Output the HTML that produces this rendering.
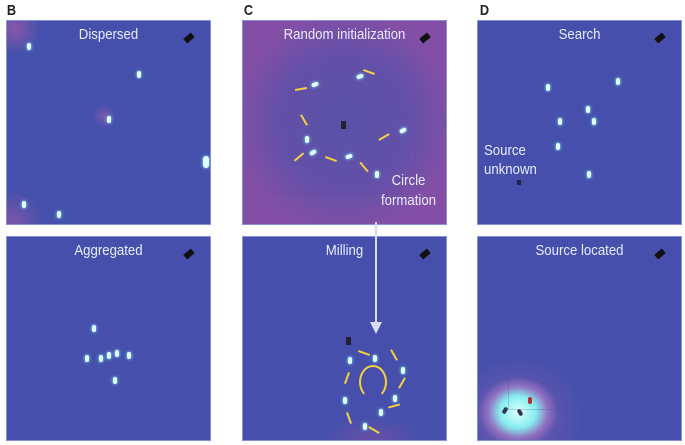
<!DOCTYPE html>
<html><head><style>
body{margin:0;width:685px;height:445px;background:#fff;position:relative;overflow:hidden;font-family:"Liberation Sans",sans-serif}
.L{position:absolute;font-weight:bold;font-size:15px;color:#222;top:2px;transform:scaleX(.85)}
.p{position:absolute;width:205px;height:205px;overflow:hidden;box-sizing:border-box;border:1px solid #8a90d8}
.t{position:absolute;top:5px;width:100%;text-align:center;color:#e8ecff;font-size:15px;transform:scaleX(.88)}
.in{position:absolute;left:30px;top:38px;right:30px;bottom:30px;border:1px solid rgba(60,70,160,.25)}
.cam{position:absolute;right:16px;top:14px;width:10px;height:6px;background:#111;transform:rotate(-40deg)}
.f{position:absolute;width:4px;height:7px;border-radius:3px;background:#dff;box-shadow:0 0 3px #8ff}
.a{position:absolute;width:12px;height:2px;background:#f5d040}
</style></head><body>
<div class="L" style="left:6px">B</div>
<div class="L" style="left:243px">C</div>
<div class="L" style="left:479px">D</div>

<div class="p" style="left:6px;top:20px;background:radial-gradient(circle 25px at 8px 8px,#8a58a8,transparent),radial-gradient(circle 30px at 6px 200px,#7a55a8,transparent),radial-gradient(circle 12px at 97px 95px,#7a58b0,transparent),#4550ac">
<div class="in"></div><div class="t">Dispersed</div><div class="cam"></div>
<div class="f" style="left:100px;top:95px"></div><div class="f" style="left:130px;top:50px"></div><div class="f" style="left:196px;top:135px;height:12px;width:6px"></div><div class="f" style="left:15px;top:180px"></div><div class="f" style="left:50px;top:190px"></div><div class="f" style="left:20px;top:22px"></div></div>

<div class="p" style="left:242px;top:20px;background:radial-gradient(ellipse 110px 110px at 50% 50%,#5a52a8 0,#6350a8 60%,#834fa6 100%)">
<div class="in" style="border-color:rgba(100,70,170,.3)"></div><div class="t">Random initialization</div><div class="cam"></div>
<div class="f" style="left:115px;top:52px;transform:rotate(70deg)"></div><div class="f" style="left:70px;top:60px;transform:rotate(70deg)"></div><div class="f" style="left:158px;top:106px;transform:rotate(60deg)"></div><div class="f" style="left:62px;top:115px"></div><div class="f" style="left:68px;top:128px;transform:rotate(60deg)"></div><div class="f" style="left:104px;top:132px;transform:rotate(70deg)"></div><div class="f" style="left:132px;top:150px"></div>
<div class="a" style="left:120px;top:50px;transform:rotate(20deg)"></div><div class="a" style="left:52px;top:67px;transform:rotate(-10deg)"></div><div class="a" style="left:55px;top:98px;transform:rotate(60deg)"></div><div class="a" style="left:135px;top:115px;transform:rotate(-30deg)"></div><div class="a" style="left:50px;top:135px;transform:rotate(-40deg)"></div><div class="a" style="left:82px;top:137px;transform:rotate(20deg)"></div><div class="a" style="left:115px;top:145px;transform:rotate(50deg)"></div>
<div style="position:absolute;left:98px;top:100px;width:5px;height:8px;background:#223"></div>
<div class="t" style="top:150px;left:64px;line-height:20px">Circle<br>formation</div></div>

<div class="p" style="left:477px;top:20px;background:#4650ac">
<div class="in"></div><div class="t">Search</div><div class="cam"></div>
<div class="f" style="left:68px;top:63px"></div><div class="f" style="left:138px;top:57px"></div><div class="f" style="left:108px;top:85px"></div><div class="f" style="left:80px;top:97px"></div><div class="f" style="left:114px;top:97px"></div><div class="f" style="left:78px;top:122px"></div><div class="f" style="left:109px;top:150px"></div>
<div style="position:absolute;left:39px;top:159px;width:4px;height:5px;background:#224"></div>
<div style="position:absolute;left:6px;top:120px;color:#e8ecff;font-size:15px;line-height:19px;transform:scaleX(.88);transform-origin:left">Source<br>unknown</div></div>

<div class="p" style="left:6px;top:236px;background:#4650ac">
<div class="in"></div><div class="t">Aggregated</div><div class="cam"></div>
<div class="f" style="left:85px;top:88px"></div><div class="f" style="left:78px;top:118px"></div><div class="f" style="left:92px;top:118px"></div><div class="f" style="left:100px;top:115px"></div><div class="f" style="left:108px;top:113px"></div><div class="f" style="left:120px;top:115px"></div><div class="f" style="left:106px;top:140px"></div></div>

<div class="p" style="left:242px;top:236px;background:radial-gradient(ellipse 50px 25px at 130px 205px,#6a4fa8,transparent),#4650ac">
<div class="in"></div><div class="t">Milling</div><div class="cam"></div>
<div style="position:absolute;left:103px;top:100px;width:5px;height:8px;background:#223"></div>
<div style="position:absolute;left:116px;top:128px;width:24px;height:30px;border:2px solid #f5d040;border-bottom-color:transparent;border-radius:50%"></div>
<div class="a" style="left:115px;top:115px;transform:rotate(20deg)"></div><div class="a" style="left:145px;top:117px;transform:rotate(60deg)"></div><div class="a" style="left:153px;top:145px;transform:rotate(-60deg)"></div><div class="a" style="left:145px;top:168px;transform:rotate(-15deg)"></div><div class="a" style="left:98px;top:140px;transform:rotate(-70deg)"></div><div class="a" style="left:100px;top:180px;transform:rotate(70deg)"></div><div class="a" style="left:125px;top:192px;transform:rotate(30deg)"></div>
<div class="f" style="left:105px;top:120px"></div><div class="f" style="left:130px;top:118px"></div><div class="f" style="left:158px;top:130px"></div><div class="f" style="left:150px;top:158px"></div><div class="f" style="left:136px;top:172px"></div><div class="f" style="left:100px;top:160px"></div><div class="f" style="left:120px;top:186px"></div></div>

<div class="p" style="left:477px;top:236px;background:radial-gradient(ellipse 40px 35px at 40px 175px,#dff 0,#8ee 45%,#9070c0 75%,transparent),radial-gradient(ellipse 65px 60px at 40px 180px,#7a5ab0,transparent),#4650ac">
<div class="in"></div><div class="t">Source located</div><div class="cam"></div>
<div class="f" style="left:25px;top:170px;background:#335;box-shadow:none;transform:rotate(30deg)"></div><div class="f" style="left:40px;top:172px;background:#335;box-shadow:none;transform:rotate(-30deg)"></div><div class="f" style="left:50px;top:160px;background:#a33;box-shadow:none"></div></div>

<div style="position:absolute;left:375px;top:222px;width:2px;height:102px;background:#d8dcf4"></div>
<div style="position:absolute;left:370px;top:322px;border-left:6px solid transparent;border-right:6px solid transparent;border-top:12px solid #d8dcf4"></div>
</body></html>
